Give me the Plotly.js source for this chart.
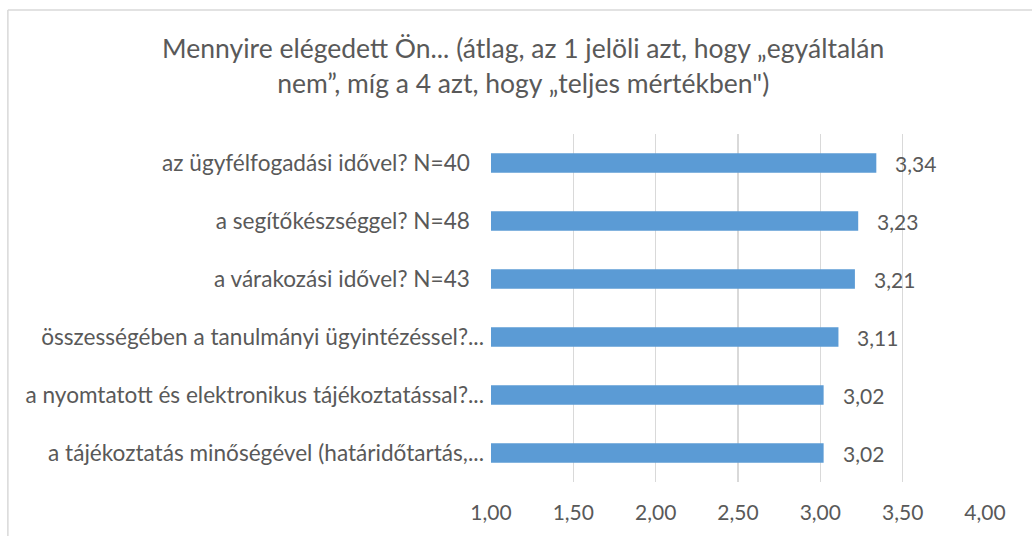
<!DOCTYPE html>
<html>
<head>
<meta charset="utf-8">
<script src="https://cdn.plot.ly/plotly-3.0.1.min.js"></script>
<style>html,body{margin:0;padding:0;background:#fff;} #chart{width:1032px;height:536px;}</style>
</head>
<body>
<div id="chart"></div>
<script>
const categories = [
  "a tájékoztatás minőségével (határidőtartás,...",
  "a nyomtatott és elektronikus tájékoztatással?...",
  "összességében a tanulmányi ügyintézéssel?...",
  "a várakozási idővel? N=43",
  "a segítőkészséggel? N=48",
  "az ügyfélfogadási idővel? N=40"
];
const values = [3.02, 3.02, 3.11, 3.21, 3.23, 3.34];
const tickVals = [1, 1.5, 2, 2.5, 3, 3.5, 4];
const tickLabels = ["1,00", "1,50", "2,00", "2,50", "3,00", "3,50", "4,00"];
const titleText = "Mennyire elégedett Ön... (átlag, az 1 jelöli azt, hogy „egyáltalán<br>nem”, míg a 4 azt, hogy „teljes mértékben\")";

const FONT = "Lato, 'Open Sans', sans-serif";
const GREY = "#595959";
const BASE = 1;

// Excel leaves a little more room after untruncated labels
const catTickText = categories.map(c => c.endsWith("...") ? c : c + "\u2002\u2009");

const trace = {
  type: "bar",
  orientation: "h",
  y: categories,
  x: values.map(v => v - BASE),
  base: BASE,
  marker: {color: "#5b9bd5"},
  width: 0.34,
  hoverinfo: "skip"
};

const annotations = values.map((v, i) => ({
  x: v, y: categories[i], xref: "x", yref: "y",
  text: v.toFixed(2).replace(".", ","),
  showarrow: false, xanchor: "left", xshift: 17,
  font: {family: FONT, size: 21, color: GREY}
}));

const layout = {
  width: 1032, height: 536,
  margin: {l: 491, r: 47, t: 134, b: 54},
  paper_bgcolor: "#fff", plot_bgcolor: "#fff",
  showlegend: false,
  title: {
    text: titleText,
    font: {family: FONT, size: 26.5, color: GREY},
    xref: "container", yref: "container",
    x: 0.507, xanchor: "center",
    y: 0.891, yanchor: "top"
  },
  xaxis: {
    range: [1, 4], tickvals: tickVals, ticktext: tickLabels,
    showgrid: true, gridcolor: "#d9d9d9", gridwidth: 1.3,
    zeroline: false, showline: false, ticks: "",
    tickfont: {family: FONT, size: 21, color: GREY},
    ticklabelstandoff: 16, fixedrange: true
  },
  yaxis: {
    type: "category", categoryorder: "array", categoryarray: categories,
    tickvals: categories, ticktext: catTickText,
    showgrid: false, zeroline: false, showline: false, ticks: "",
    tickfont: {family: FONT, size: 22.6, color: GREY},
    ticklabelstandoff: 6, fixedrange: true
  },
  annotations: annotations,
  shapes: [
    {type: "line", xref: "paper", yref: "paper", x0: -0.978, x1: -0.978, y0: -0.5, y1: 1.356,
     line: {color: "#d9d9d9", width: 1.5}},
    {type: "line", xref: "paper", yref: "paper", x0: -0.978, x1: 1.2, y0: 1.356, y1: 1.356,
     line: {color: "#d9d9d9", width: 1.5}}
  ]
};

Plotly.newPlot("chart", [trace], layout, {staticPlot: true, displayModeBar: false});
</script>
</body>
</html>
